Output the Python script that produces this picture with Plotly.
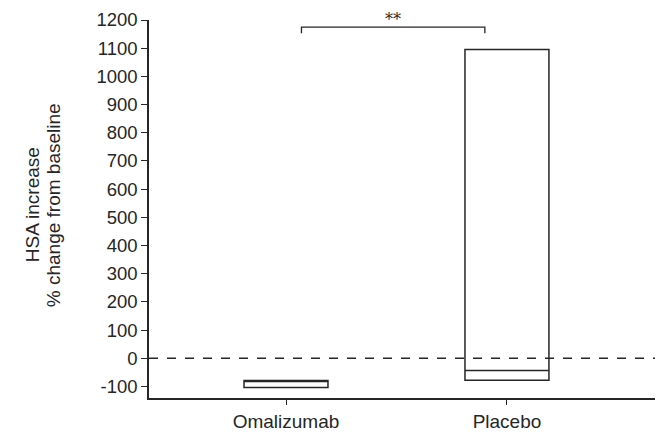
import plotly.graph_objects as go

groups = ["Omalizumab", "Placebo"]
q1 = [-104, -78]
median = [-80, -43]
q3 = [-79, 1095]

y_tickvals = list(range(-100, 1201, 100))
y_ticktext = ["-100" if v < 0 else str(v) for v in y_tickvals]

title_lines = ["HSA increase", "% change from baseline"]
sig_label = "**"
sig_y = 1175

ink = "#262626"
fam = "Liberation Sans, Arial, sans-serif"

fig = go.Figure()
fig.add_trace(go.Box(
    x=groups, q1=q1, median=median, q3=q3,
    lowerfence=q1, upperfence=q3,
    fillcolor="white", line=dict(color=ink, width=1.5),
    whiskerwidth=0, width=0.38, boxpoints=False, showlegend=False,
    hoverinfo="skip",
))

# dashed zero line
fig.add_shape(type="line", xref="paper", yref="y", x0=0, x1=1, y0=0, y1=0,
              line=dict(color=ink, width=1.3, dash="dash"))
# significance bracket
fig.add_shape(type="path", xref="x", yref="y",
              path=f"M 0.07,{sig_y-22} L 0.07,{sig_y} L 0.9,{sig_y} L 0.9,{sig_y-22}",
              line=dict(color=ink, width=1.3))
fig.add_annotation(x=0.485, y=sig_y, xref="x", yref="y", text=sig_label,
                   showarrow=False, yanchor="bottom", yshift=-4,
                   font=dict(family="DejaVu Serif, serif", size=16, color=ink))

# y-axis title as two rotated lines
for txt, shift in zip(title_lines, [-117, -96]):
    fig.add_annotation(x=0, y=0.51, xref="paper", yref="paper", text=txt,
                       textangle=-90, showarrow=False, xanchor="center",
                       yanchor="middle", xshift=shift,
                       font=dict(family=fam, size=19, color=ink))

fig.update_layout(
    width=658, height=435,
    margin=dict(l=149, r=3, t=20, b=35),
    paper_bgcolor="white", plot_bgcolor="white",
    font=dict(family=fam, size=18, color=ink),
    xaxis=dict(type="category", range=[-0.62, 1.67], showline=True,
               linecolor=ink, linewidth=1.5, ticks="outside", ticklen=5,
               tickcolor=ink, showgrid=False, zeroline=False,
               tickfont=dict(family=fam, size=19, color=ink)),
    yaxis=dict(range=[-141, 1200], tickvals=y_tickvals, ticktext=y_ticktext,
               showline=True, linecolor=ink, linewidth=1.5, ticks="outside",
               ticklen=6, tickcolor=ink, showgrid=False, zeroline=False,
               tickfont=dict(family=fam, size=18.5, color=ink)),
)

fig.write_html("out.html", config={"displayModeBar": False},
               post_script="document.body.style.margin='0';document.body.style.padding='0';")
